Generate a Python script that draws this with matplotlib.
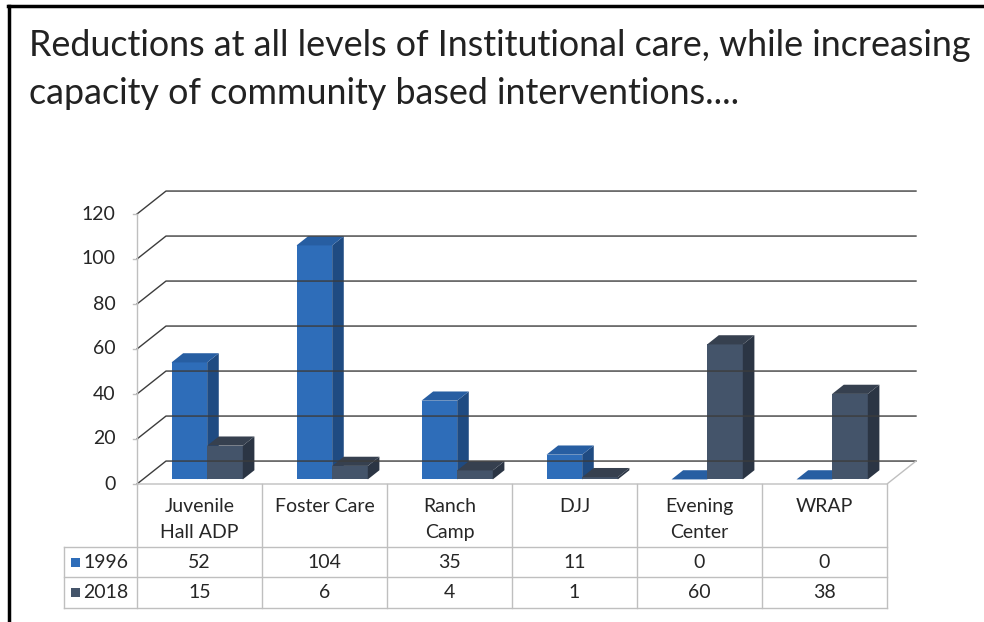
import matplotlib.pyplot as plt
from matplotlib.patches import Polygon, Rectangle

title = "Reductions at all levels of Institutional care, while increasing\ncapacity of community based interventions...."
categories = ["Juvenile\nHall ADP", "Foster Care", "Ranch\nCamp", "DJJ", "Evening\nCenter", "WRAP"]
years = ["1996", "2018"]
values_1996 = [52, 104, 35, 11, 0, 0]
values_2018 = [15, 6, 4, 1, 60, 38]
yticks = [0, 20, 40, 60, 80, 100, 120]

front_col = ['#2E6DB9', '#44546A']
side_col = ['#1F4B82', '#2B3544']
top_col = ['#275EA2', '#36404F']

plt.rcParams['font.family'] = ['Lato', 'DejaVu Sans']

fig = plt.figure(figsize=(9.84, 6.22), dpi=100)

# pixel space overlay for the slide frame, title and data table
bg = fig.add_axes([0, 0, 1, 1])
bg.set_xlim(0, 984)
bg.set_ylim(622, 0)
bg.axis('off')

bg.plot([8, 984], [6, 6], color='black', lw=2.5)
bg.plot([9, 9], [6, 622], color='black', lw=2.5)
for k, line in enumerate(title.split('\n')):
    bg.text(29, 46 + 47 * k, line, fontsize=25.8, va='center', ha='left', color='#222222')

# chart area (front plane of the 3d box)
ax = fig.add_axes([137 / 984, 1 - 484 / 622, 750 / 984, 270 / 622])
ax.set_xlim(0, 6)
ax.set_ylim(0, 120)
ax.axis('off')

DX, DY = 0.232, 10.2  # depth of the box in data units
grid_c = '#3c3c3c'
light = '#BFBFBF'

for v in yticks:
    ax.plot([0, DX, 6 + DX], [v, v + DY, v + DY], color=grid_c, lw=1, clip_on=False)
    ax.plot([-0.035, 0], [v, v], color=light, lw=1, clip_on=False)
    ax.text(-0.17, v, str(v), ha='right', va='center', fontsize=14, color='#262626')
ax.plot([0, 0], [0, 120], color=light, lw=1, clip_on=False)
ax.plot([0, 6, 6 + DX], [0, 0, DY], color=light, lw=1, clip_on=False)

# bars drawn as boxes: front face, right side, top
f0, f1 = 0.2, 0.6
w = 0.285
for i in range(len(categories)):
    for s, vals in enumerate([values_1996, values_2018]):
        h = vals[i]
        x0 = i + 0.23 + s * w + f0 * DX
        y0 = f0 * DY
        dx, dy = (f1 - f0) * DX, (f1 - f0) * DY
        ax.add_patch(Rectangle((x0, y0), w, h, facecolor=front_col[s], edgecolor='none', clip_on=False))
        ax.add_patch(Polygon([(x0 + w, y0), (x0 + w + dx, y0 + dy), (x0 + w + dx, y0 + h + dy), (x0 + w, y0 + h)],
                             closed=True, facecolor=side_col[s], edgecolor='none', clip_on=False))
        ax.add_patch(Polygon([(x0, y0 + h), (x0 + dx, y0 + h + dy), (x0 + w + dx, y0 + h + dy), (x0 + w, y0 + h)],
                             closed=True, facecolor=top_col[s], edgecolor='none', clip_on=False))

# data table
col_x = [137 + 125 * k for k in range(len(categories) + 1)]
rows_y = [484, 547, 577, 608]
for x in col_x:
    bg.plot([x, x], [rows_y[0], rows_y[-1]], color=light, lw=1)
for y in rows_y[1:]:
    bg.plot([64, col_x[-1]], [y, y], color=light, lw=1)
bg.plot([64, 64], [rows_y[1], rows_y[-1]], color=light, lw=1)

for k, cat in enumerate(categories):
    cx = col_x[k] + 62.5
    bg.text(cx, 498, cat, ha='center', va='top', fontsize=14, linespacing=1.62, color='#262626')
    for s, vals in enumerate([values_1996, values_2018]):
        cy = (rows_y[s + 1] + rows_y[s + 2]) / 2
        bg.text(cx, cy, str(vals[k]), ha='center', va='center', fontsize=14, color='#262626')

for s, yr in enumerate(years):
    cy = (rows_y[s + 1] + rows_y[s + 2]) / 2
    bg.add_patch(Rectangle((71, cy - 4.5), 9, 9, facecolor=front_col[s], edgecolor='none'))
    bg.text(83, cy, yr, ha='left', va='center', fontsize=14, color='#262626')

fig.savefig('out.png', dpi=100)
